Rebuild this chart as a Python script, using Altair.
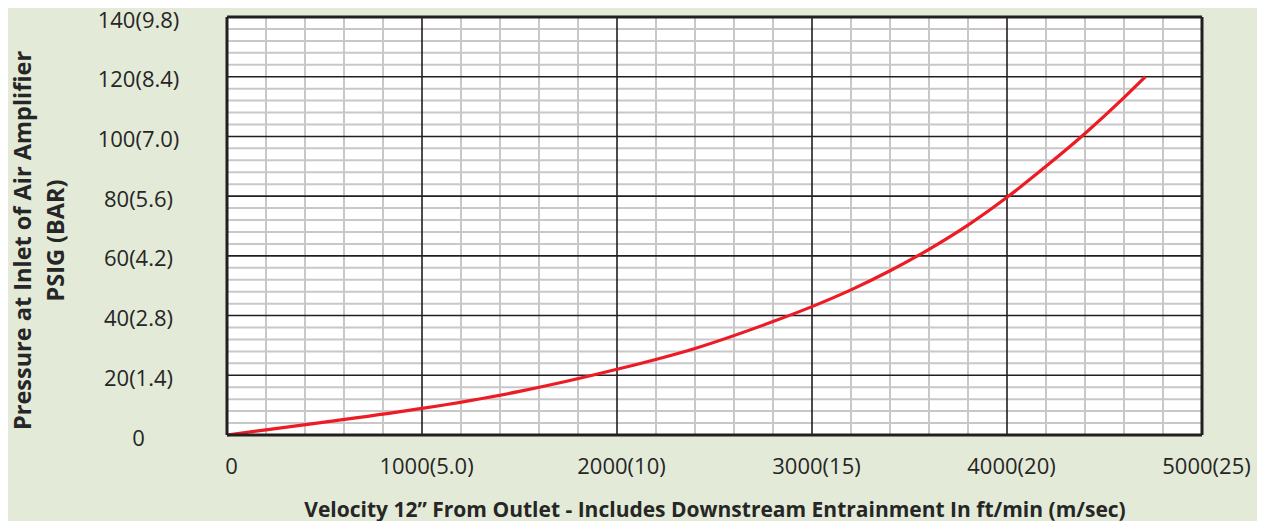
import altair as alt
import pandas as pd

# Curve (ft/min vs PSIG)
velocity = [0, 200, 500, 1000, 1500, 2000, 2400, 2800, 3000, 3200, 3400, 3600, 3800, 4000, 4200, 4400, 4600, 4710]
pressure = [0, 1.7, 4.3, 8.9, 14.6, 22.0, 29.0, 38.0, 43.0, 48.6, 55.0, 62.2, 70.3, 79.6, 90.0, 101.0, 113.0, 120.0]

x_ticks = [0, 1000, 2000, 3000, 4000, 5000]
x_labels = ["0", "1000(5.0)", "2000(10)", "3000(15)", "4000(20)", "5000(25)"]
y_ticks = [0, 20, 40, 60, 80, 100, 120, 140]
y_labels = ["0", "20(1.4)", "40(2.8)", "60(4.2)", "80(5.6)", "100(7.0)", "120(8.4)", "140(9.8)"]

x_minor = [v for v in range(0, 5001, 200) if v % 1000]
y_minor = [v for v in range(0, 141, 4) if v % 20]
x_border = [0, 5000]
y_border = [0, 140]

x_title = "Velocity 12\u201d From Outlet - Includes Downstream Entrainment In ft/min (m/sec)"
y_title = ["Pressure at Inlet of Air Amplifier", "PSIG (BAR)"]

LABEL_FONT = "Open Sans"
TITLE_FONT = "Open Sans"
TEXT = "#262626"

xs = alt.Scale(domain=[0, 5000], nice=False, zero=True)
ys = alt.Scale(domain=[0, 140], nice=False, zero=True)


def expr(ticks, labels):
    return "{" + ",".join(f"'{t}':'{l}'" for t, l in zip(ticks, labels)) + "}[datum.value]"


x_axis = alt.Axis(
    values=x_ticks, labelExpr=expr(x_ticks, x_labels), title=x_title,
    grid=False, domain=False, ticks=False, tickSize=0, labelFlush=False,
    labelFont=LABEL_FONT, labelFontSize=22, labelColor=TEXT, labelPadding=31,
    labelBaseline="middle", labelAlign="center", labelOffset=4,
    titleFont=TITLE_FONT, titleFontSize=21, titleFontWeight="bold", titleColor=TEXT,
    titleBaseline="alphabetic", titleY=81)
y_axis = alt.Axis(
    values=y_ticks, labelExpr=expr(y_ticks, y_labels), title=y_title,
    grid=False, domain=False, ticks=False, tickSize=0,
    labelFont=LABEL_FONT, labelFontSize=22, labelColor=TEXT, labelPadding=89,
    labelBaseline="middle", labelAlign="center", labelOffset=3,
    titleFont=TITLE_FONT, titleFontSize=23.5, titleFontWeight="bold", titleColor=TEXT,
    titleBaseline="alphabetic", titleX=-197, titleY=223, titleLineHeight=33)

X = alt.X("v:Q", scale=xs, axis=x_axis, title=x_title)
Y = alt.Y("p:Q", scale=ys, axis=y_axis, title=y_title)

curve_df = pd.DataFrame({"v": velocity, "p": pressure})

curve = alt.Chart(curve_df).mark_line(color="#ed1c24", strokeWidth=3.2, interpolate="monotone").encode(x=X, y=Y)
minor_v = alt.Chart(pd.DataFrame({"v": x_minor})).mark_rule(color="#c8c8c8", strokeWidth=2).encode(x=X)
minor_h = alt.Chart(pd.DataFrame({"p": y_minor})).mark_rule(color="#c8c8c8", strokeWidth=2).encode(y=Y)
major_v = alt.Chart(pd.DataFrame({"v": x_ticks})).mark_rule(color="#231f20", strokeWidth=1.6).encode(x=X)
major_h = alt.Chart(pd.DataFrame({"p": y_ticks})).mark_rule(color="#231f20", strokeWidth=1.6).encode(y=Y)
border_v = alt.Chart(pd.DataFrame({"v": x_border})).mark_rule(color="#231f20", strokeWidth=3).encode(x=X)
border_h = alt.Chart(pd.DataFrame({"p": y_border})).mark_rule(color="#231f20", strokeWidth=3).encode(y=Y)

chart = alt.layer(minor_v, minor_h, major_v, major_h, curve, border_v, border_h).properties(
    width=975, height=418,
    autosize=alt.AutoSizeParams(type="none"),
    padding={"left": 219, "top": 9, "right": 55, "bottom": 86},
    background="#e3ead7",
).configure_view(stroke=None, fill="white")

chart.save("out.html", embed_options={"renderer": "svg", "actions": False})
